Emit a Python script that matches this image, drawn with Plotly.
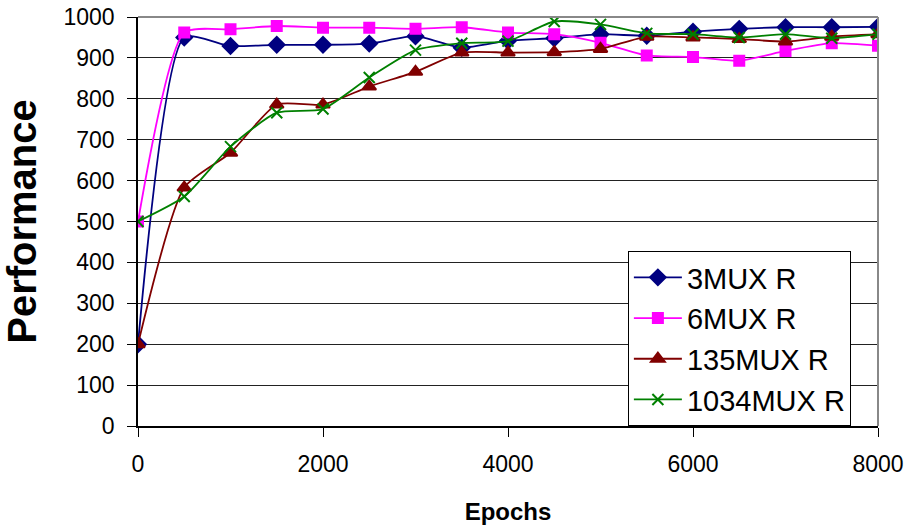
import plotly.graph_objects as go

epochs = [0, 500, 1000, 1500, 2000, 2500, 3000, 3500, 4000, 4500, 5000, 5500, 6000, 6500, 7000, 7500, 8000]
mux3 = [200, 950, 929, 932, 932, 935, 953, 925, 942, 948, 958, 954, 964, 971, 975, 975, 976]
mux6 = [500, 962, 970, 978, 974, 974, 971, 975, 962, 958, 937, 906, 902, 893, 917, 936, 930]
mux135 = [200, 583, 668, 786, 786, 830, 866, 913, 913, 914, 922, 952, 950, 946, 940, 952, 958]
mux1034 = [500, 561, 683, 766, 775, 852, 919, 936, 941, 989, 982, 960, 958, 950, 958, 948, 958]

series = [
    ("3MUX R", mux3, "#000080", "diamond", 12),
    ("6MUX R", mux6, "#FF00FF", "square", 10),
    ("135MUX R", mux135, "#800000", "triangle-up", 12),
    ("1034MUX R", mux1034, "#008000", "x-thin-open", 11),
]

FONT = "Liberation Sans, Arial, sans-serif"

fig = go.Figure()
for name, ys, col, sym, sz in series:
    fig.add_trace(go.Scatter(
        x=epochs, y=ys, name=name, mode="lines+markers",
        line=dict(color=col, width=1.8, shape="spline", smoothing=0.6),
        marker=dict(symbol=sym, size=sz, color=col, line=dict(color=col, width=2)),
    ))

fig.update_layout(
    width=913, height=526,
    margin=dict(l=138, r=35, t=17, b=100),
    paper_bgcolor="white", plot_bgcolor="white",
    font=dict(family=FONT, color="black"),
    showlegend=True,
    legend=dict(
        x=0.662, y=0.0, xanchor="left", yanchor="bottom",
        bgcolor="white", bordercolor="black", borderwidth=1,
        font=dict(size=29, family=FONT),
        tracegroupgap=0, itemwidth=48,
    ),
    xaxis=dict(
        range=[0, 8000], tickvals=[0, 2000, 4000, 6000, 8000],
        ticks="outside", ticklen=9, tickcolor="black",
        showline=True, linecolor="black", linewidth=1.5, mirror=False,
        showgrid=False, zeroline=False, automargin=False,
        tickfont=dict(size=23), ticklabelstandoff=8,
        title=dict(text="<b>Epochs</b>", font=dict(size=24), standoff=27),
    ),
    yaxis=dict(
        range=[0, 1000], dtick=100,
        ticks="outside", ticklen=9, tickcolor="black",
        showline=True, linecolor="black", linewidth=1.5,
        showgrid=True, gridcolor="#222222", gridwidth=1, zeroline=False,
        automargin=False,
        tickfont=dict(size=23), ticklabelstandoff=8,
        title=dict(text="<b>Performance</b>", font=dict(size=40), standoff=25),
    ),
    shapes=[
        dict(type="line", xref="paper", yref="paper", x0=0, x1=1, y0=1, y1=1,
             line=dict(color="#888888", width=2)),
        dict(type="line", xref="paper", yref="paper", x0=1, x1=1, y0=0, y1=1,
             line=dict(color="#888888", width=2)),
    ],
)

fig.write_html("out.html")
